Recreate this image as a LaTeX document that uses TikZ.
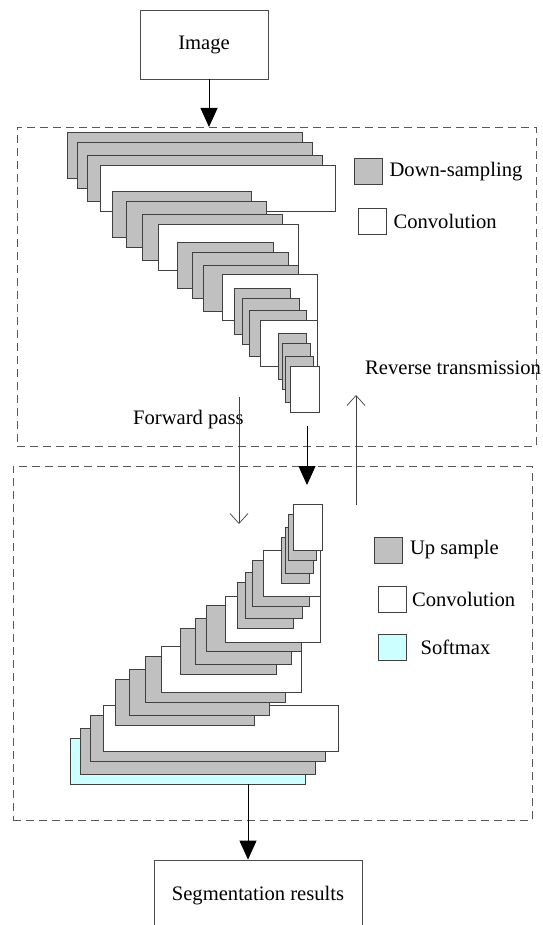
\documentclass[tikz,border=0pt]{standalone}
\usepackage{fontspec}
\setmainfont{Liberation Serif}
\usetikzlibrary{arrows.meta, positioning}

\definecolor{layergray}{RGB}{192,192,192}
\definecolor{softcyan}{RGB}{204,255,255}

% x1/y1/x2/style of each layer, top to bottom (height 46)
\def\layerlist{67/132/302/toplayer, 77/142/312/downlayer, 87/155/322/downlayer, 100/165/335/convlayer,
  112/191/251/downlayer, 126/201/266/downlayer, 142/214/282/downlayer, 158/224/298/convlayer,
  177/242/273/downlayer, 192/252/288/downlayer, 203/265/298/downlayer, 222/274/317/convlayer,
  234/288/290/downlayer, 242/298/299/downlayer, 249/310/306/downlayer, 260/320/317/convlayer,
  278/333/306/downlayer, 282/343/310/downlayer, 285/356/313/downlayer, 290/366/319/convlayer}

\begin{document}
\begin{tikzpicture}[
  x=1pt, y=-1pt,
  font=\fontsize{20.6}{24}\selectfont,
  box/.style={rectangle, draw=black!70, line width=0.8pt, align=center},
  stage/.style={rectangle, draw=black!65, dash pattern=on 8pt off 5pt, line width=0.8pt, inner sep=0pt, outer sep=0pt},
  layer/.style={draw=black!75, line width=0.8pt},
  downlayer/.style={layer, fill=layergray},
  convlayer/.style={layer, fill=white},
  legbox/.style={rectangle, layer, minimum width=28pt, minimum height=26pt, inner sep=0pt},
  legtext/.style={inner sep=0pt},
  big/.style={-{Triangle[length=19pt, width=17pt]}, line width=0.9pt},
  pass/.style={-{Straight Barb[length=10pt, width=18pt]}, draw=black!75, line width=0.7pt}
]
\clip (0,0) rectangle (542,925);

\node[box, minimum width=128pt, minimum height=69pt] (img) at (204,44.5) {Image};
\node[stage, minimum width=519pt, minimum height=319pt] (enc) at (276.5,286.5) {};
\node[stage, minimum width=519pt, minimum height=354pt] (dec) at (272.5,643) {};
\node[box, minimum width=208pt, minimum height=72pt] (seg) at (258,896) {Segmentation results};

% encoder layers
\begin{scope}[toplayer/.style=downlayer]
  \foreach \xa/\ya/\xb/\kind in \layerlist
    \draw[\kind] (\xa,\ya) rectangle (\xb,\ya+46);
\end{scope}
% decoder layers, same list mirrored
\begin{scope}[shift={(3,916)}, yscale=-1, toplayer/.style={layer, fill=softcyan}]
  \foreach \xa/\ya/\xb/\kind in \layerlist
    \draw[\kind] (\xa,\ya) rectangle (\xb,\ya+46);
\end{scope}

% legends
\node[legbox, fill=layergray] (kdown) at (368,171.5) {};
\node[legtext, right=7pt of kdown] (tdown) {Down-sampling};
\node[legbox, fill=white] (kconv) at (372,221) {};
\node[legtext, right=7pt of kconv] (tconv) {Convolution};
\node[legbox, fill=layergray] (kup) at (388.5,550) {};
\node[legtext, right=7pt of kup] (tup) {Up sample};
\node[legbox, fill=white] (kconvb) at (392.5,599) {};
\node[legtext, right=5pt of kconvb] (tconvb) {Convolution};
\node[legbox, fill=softcyan] (ksoft) at (392,647.5) {};
\node[legtext, right=14pt of ksoft] (tsoft) {Softmax};

\node[legtext, anchor=base west] (fwd) at (133,424) {Forward pass};
\node[legtext, anchor=base west] (rev) at (365,374) {Reverse transmission};

\coordinate (a1) at (307,426);
\coordinate (a2) at (307,485);
\coordinate (f1) at (239,397);
\coordinate (f2) at (239,524);
\coordinate (r1) at (356,505);
\coordinate (r2) at (356,395);
\coordinate (out) at (248,784);

\draw[big] ([xshift=5pt]img.south) -- ([xshift=5pt]img.south |- enc.north);
\draw[big] (a1) -- (a2);
\draw[pass] (f1) -- (f2);
\draw[pass] (r1) -- (r2);
\draw[big] (out) -- (out |- seg.north);
\end{tikzpicture}
\end{document}
